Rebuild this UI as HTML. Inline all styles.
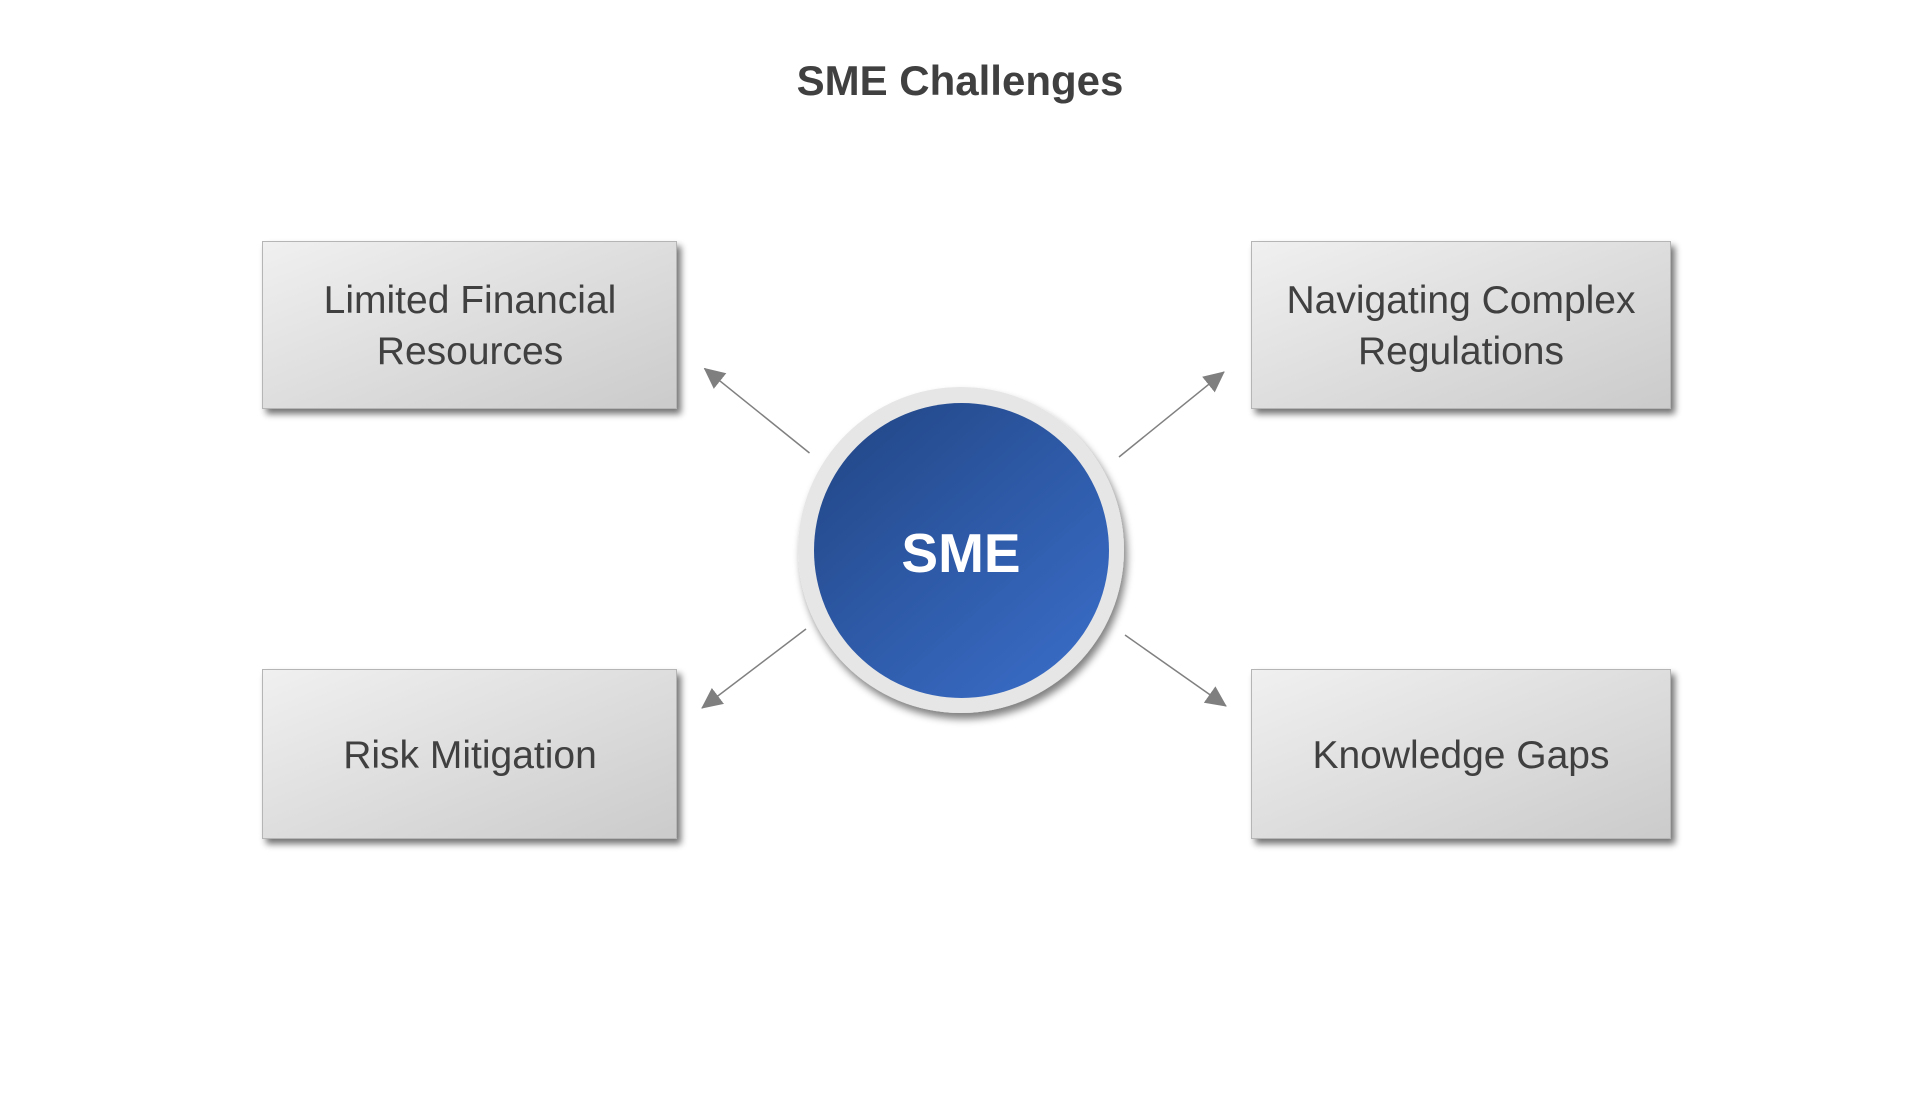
<!DOCTYPE html>
<html>
<head>
<meta charset="utf-8">
<style>
  html, body { margin: 0; padding: 0; background: #ffffff; }
  body { width: 1920px; height: 1102px; overflow: hidden; }
  svg { display: block; }
  text { font-family: "Liberation Sans", sans-serif; }
</style>
</head>
<body>
<svg width="1920" height="1102" viewBox="0 0 1920 1102" xmlns="http://www.w3.org/2000/svg">
  <defs>
    <linearGradient id="boxg" x1="0" y1="0" x2="1" y2="1">
      <stop offset="0" stop-color="#f0f0f0"/>
      <stop offset="1" stop-color="#cbcbcb"/>
    </linearGradient>
    <linearGradient id="circg" x1="0.15" y1="0.1" x2="0.85" y2="0.9">
      <stop offset="0" stop-color="#244a8c"/>
      <stop offset="1" stop-color="#386ac3"/>
    </linearGradient>
    <filter id="shadow" x="-20%" y="-20%" width="140%" height="150%">
      <feGaussianBlur in="SourceAlpha" stdDeviation="3.5"/>
      <feOffset dx="4" dy="5" result="ob"/>
      <feComponentTransfer><feFuncA type="linear" slope="0.55"/></feComponentTransfer>
      <feMerge><feMergeNode/><feMergeNode in="SourceGraphic"/></feMerge>
    </filter>
    <filter id="cshadow" x="-20%" y="-20%" width="140%" height="150%">
      <feGaussianBlur in="SourceAlpha" stdDeviation="4"/>
      <feOffset dx="3" dy="6" result="ob"/>
      <feComponentTransfer><feFuncA type="linear" slope="0.5"/></feComponentTransfer>
      <feMerge><feMergeNode/><feMergeNode in="SourceGraphic"/></feMerge>
    </filter>
    <marker id="ah" markerUnits="userSpaceOnUse" markerWidth="21" markerHeight="20" viewBox="0 0 21 20" refX="20" refY="10" orient="auto">
      <path d="M0,0 L21,10 L0,20 z" fill="#7f7f7f"/>
    </marker>
  </defs>

  <!-- Title -->
  <text x="960" y="95" text-anchor="middle" font-size="42" font-weight="bold" fill="#404040">SME Challenges</text>

  <!-- Boxes -->
  <rect x="262.5" y="241.5" width="414" height="167" fill="url(#boxg)" stroke="#b5b5b5" stroke-width="1" filter="url(#shadow)"/>
  <rect x="1251.5" y="241.5" width="419" height="167" fill="url(#boxg)" stroke="#b5b5b5" stroke-width="1" filter="url(#shadow)"/>
  <rect x="262.5" y="669.5" width="414" height="169" fill="url(#boxg)" stroke="#b5b5b5" stroke-width="1" filter="url(#shadow)"/>
  <rect x="1251.5" y="669.5" width="419" height="169" fill="url(#boxg)" stroke="#b5b5b5" stroke-width="1" filter="url(#shadow)"/>

  <!-- Box labels -->
  <g font-size="39" fill="#404040" text-anchor="middle">
    <text x="470" y="313">Limited Financial</text>
    <text x="470" y="364">Resources</text>
    <text x="1461" y="313">Navigating Complex</text>
    <text x="1461" y="364">Regulations</text>
    <text x="470" y="768">Risk Mitigation</text>
    <text x="1461" y="768">Knowledge Gaps</text>
  </g>

  <!-- Arrows -->
  <g stroke="#808080" stroke-width="1.5" fill="none">
    <line x1="809.5" y1="453" x2="704.5" y2="368.5" marker-end="url(#ah)"/>
    <line x1="1119" y1="457" x2="1224" y2="372" marker-end="url(#ah)"/>
    <line x1="806" y1="629" x2="702" y2="708" marker-end="url(#ah)"/>
    <line x1="1125" y1="635" x2="1226" y2="706" marker-end="url(#ah)"/>
  </g>

  <!-- Central circle -->
  <circle cx="961" cy="550" r="163" fill="#e6e6e6" filter="url(#cshadow)"/>
  <circle cx="961.5" cy="550.5" r="147.5" fill="url(#circg)"/>
  <text x="961" y="572" text-anchor="middle" font-size="55" font-weight="bold" fill="#ffffff">SME</text>
</svg>
</body>
</html>
